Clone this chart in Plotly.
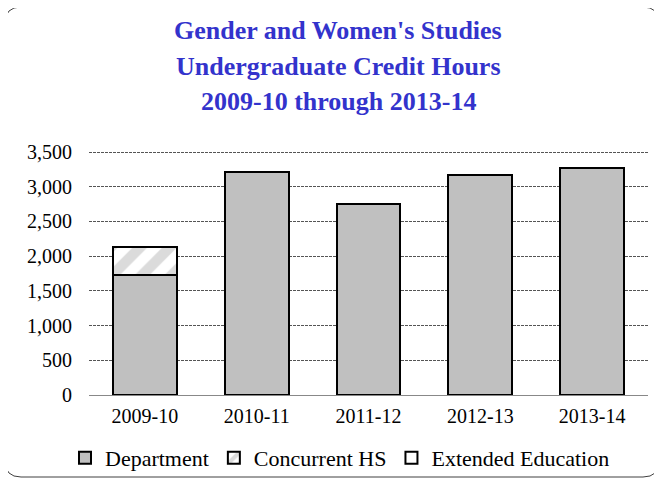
import plotly.graph_objects as go

categories = ["2009-10", "2010-11", "2011-12", "2012-13", "2013-14"]
department = [1730, 3220, 2750, 3165, 3275]
concurrent_hs = [405, 0, 0, 0, 0]
extended_education = [0, 0, 0, 0, 0]
y_ticks = [0, 500, 1000, 1500, 2000, 2500, 3000, 3500]
y_tick_labels = ["0", "500", "1,000", "1,500", "2,000", "2,500", "3,000", "3,500"]
title_lines = ["Gender and Women's Studies", "Undergraduate Credit Hours", "2009-10 through 2013-14"]

# page body has an 8px margin; figure size and positions compensate for it
OFF = 8
W, H = 662 - OFF, 481 - OFF
L, T = 89 - OFF, 150 - OFF
pw, ph = 559, 245
R = W - L - pw
B = H - T - ph
YMAX = 3530

def px_x(x):
    return (x - OFF - L) / pw

def px_y(y):
    return (T + ph - (y - OFF)) / ph

FONT = "Liberation Serif"

fig = go.Figure()
fig.add_bar(x=categories, y=department, name="Department",
            marker=dict(color="#C0C0C0", line=dict(color="black", width=2)))
fig.add_bar(x=categories, y=concurrent_hs, name="Concurrent HS",
            marker=dict(color="white", line=dict(color="black", width=2),
                        pattern=dict(shape="/", fgcolor="#B8B8B8", bgcolor="white",
                                     size=21, solidity=0.5, fillmode="overlay")))
fig.add_bar(x=categories, y=extended_education, name="Extended Education",
            marker=dict(color="white", line=dict(color="black", width=2)))

# title lines
for i, line in enumerate(title_lines):
    fig.add_annotation(text=line, xref="paper", yref="paper",
                       x=px_x(338), y=px_y(31 + 35 * i), xanchor="center", yanchor="middle",
                       showarrow=False,
                       font=dict(family=FONT, size=26, color="#3333CC", weight="bold"))

# rounded border
x0, y0, x1, y1, r = 5, 7, 659, 477, 16
path = (f"M {px_x(x0 + r)},{px_y(y0)} L {px_x(x1 - r)},{px_y(y0)} "
        f"Q {px_x(x1)},{px_y(y0)} {px_x(x1)},{px_y(y0 + r)} "
        f"L {px_x(x1)},{px_y(y1 - r)} Q {px_x(x1)},{px_y(y1)} {px_x(x1 - r)},{px_y(y1)} "
        f"L {px_x(x0 + r)},{px_y(y1)} Q {px_x(x0)},{px_y(y1)} {px_x(x0)},{px_y(y1 - r)} "
        f"L {px_x(x0)},{px_y(y0 + r)} Q {px_x(x0)},{px_y(y0)} {px_x(x0 + r)},{px_y(y0)} Z")
fig.add_shape(type="path", path=path, xref="paper", yref="paper",
              line=dict(color="#404040", width=1), layer="above")

fig.update_layout(
    barmode="stack",
    bargap=0.43,
    width=W, height=H,
    margin=dict(l=L, r=R, t=T, b=B, autoexpand=False),
    paper_bgcolor="white", plot_bgcolor="white",
    font=dict(family=FONT, size=20, color="black"),
    showlegend=True,
    legend=dict(orientation="h", xref="container", yref="container",
                x=(340 - OFF) / W, xanchor="center", y=(H - (458 - OFF)) / H, yanchor="middle",
                font=dict(family=FONT, size=22, color="black"),
                bgcolor="rgba(0,0,0,0)",
                traceorder="normal", itemwidth=30),
    xaxis=dict(type="category", showgrid=False, showline=True, linecolor="#888888", linewidth=1,
               ticks="outside", ticklen=3, tickcolor="rgba(0,0,0,0)",
               tickfont=dict(family=FONT, size=20), fixedrange=True),
    yaxis=dict(range=[0, YMAX], tickvals=y_ticks, ticktext=y_tick_labels,
               showgrid=True, gridcolor="#555555", griddash="3px,1px", gridwidth=1,
               zeroline=True, zerolinecolor="#888888", zerolinewidth=1,
               ticks="outside", ticklen=12, tickcolor="rgba(0,0,0,0)",
               tickfont=dict(family=FONT, size=20), fixedrange=True),
)

fig.write_html("out.html")
